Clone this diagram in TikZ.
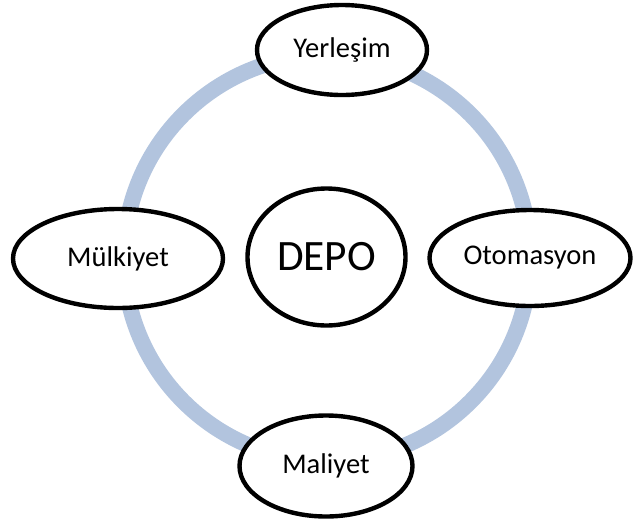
\documentclass[tikz,border=0pt]{standalone}
\usepackage{fontspec}
\setmainfont{Carlito}
\usetikzlibrary{shapes.geometric}
\definecolor{ringblue}{RGB}{178,196,222}
\tikzset{
  topic/.style={draw, ellipse, fill=white, line width=3.3pt, inner sep=0pt,
    font=\fontsize{21.4}{24}\selectfont},
}
\begin{document}
\begin{tikzpicture}[x=0.75pt,y=-0.75pt]
      \useasboundingbox (0,0) rectangle (633,522);
      % cycle ring behind the topics
      \draw[color=ringblue, line width=12pt] (327,258) circle (203);
      % centre
      \draw (326.5,257) node[topic, minimum width=118.5pt, minimum height=102.75pt,
        font=\fontsize{32.5}{36}\selectfont](depo){DEPO};
      % topics round the ring
      \draw (342,50) node[topic, minimum width=127.5pt, minimum height=67.5pt](yerlesim){Yerleşim};
      \draw (118,258.5) node[topic, minimum width=157.5pt, minimum height=74.25pt](mulkiyet){Mülkiyet};
      \draw (530,258) node[topic, minimum width=150.75pt, minimum height=72pt](otomasyon){Otomasyon};
      \draw (326,466) node[topic, minimum width=129.75pt, minimum height=75.75pt](maliyet){Maliyet};
\end{tikzpicture}
\end{document}
